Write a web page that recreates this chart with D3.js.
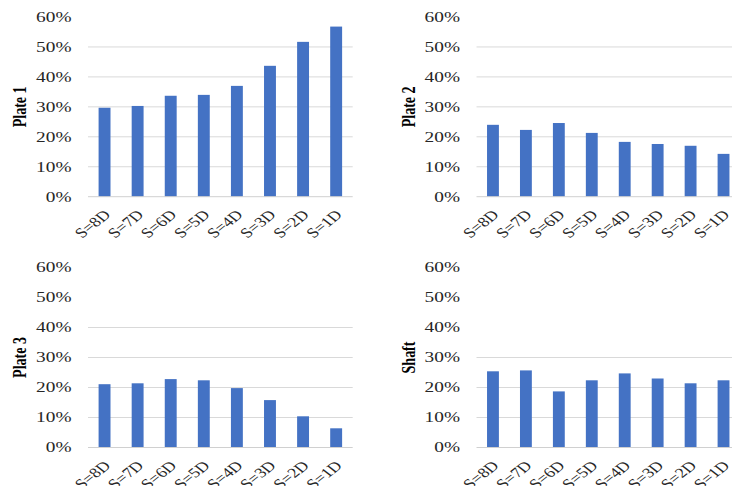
<!DOCTYPE html>
<html>
<head>
<meta charset="utf-8">
<script src="https://cdn.jsdelivr.net/npm/d3@7"></script>
<style>
  html, body { margin: 0; padding: 0; background: #fff; }
  svg { display: block; }
  text { font-family: "Liberation Serif", "Times New Roman", serif; }
</style>
</head>
<body>
<svg id="chart" width="732" height="486"></svg>
<script>
// Spacing categories (S = n·D)
const categories = ["S=8D", "S=7D", "S=6D", "S=5D", "S=4D", "S=3D", "S=2D", "S=1D"];

// Share per component, one array per panel
const plate1 = [0.297, 0.303, 0.337, 0.340, 0.370, 0.437, 0.517, 0.568];
const plate2 = [0.240, 0.223, 0.246, 0.213, 0.183, 0.176, 0.170, 0.143];
const plate3 = [0.211, 0.214, 0.228, 0.224, 0.198, 0.158, 0.104, 0.064];
const shaft  = [0.254, 0.257, 0.187, 0.224, 0.247, 0.230, 0.214, 0.224];

const panelTitles = ["Plate 1", "Plate 2", "Plate 3", "Shaft"];
const yTicks = [0, 0.1, 0.2, 0.3, 0.4, 0.5, 0.6];
// highest gridline drawn in each panel
const gridTops = [0.5, 0.5, 0.4, 0.3];

const series = [plate1, plate2, plate3, shaft];

// panel frames: plot area left/right, top (60%) and baseline (0%)
const frames = [
  { x0: 88,    x1: 352.7, top: 17,    base: 196.7 },
  { x0: 476.5, x1: 740,   top: 17,    base: 196.7 },
  { x0: 88,    x1: 352.7, top: 267.5, base: 447.5 },
  { x0: 476.5, x1: 740,   top: 267.5, base: 447.5 }
];

const SX = 1.38;   // horizontal stretch of the lettering
const SXC = 1.28;  // stretch of the slanted category labels
const svg = d3.select("#chart");

series.forEach((vals, i) => {
  const f = frames[i];
  const g = svg.append("g");

  const x = d3.scaleBand()
    .domain(categories)
    .range([f.x0, f.x1])
    .paddingInner(0.64)
    .paddingOuter(0.32);

  const y = d3.scaleLinear().domain([0, 0.6]).range([f.base, f.top]);

  // gridlines
  g.selectAll("line.grid")
    .data(yTicks.filter(t => t > 0 && t <= gridTops[i] + 1e-9))
    .join("line")
    .attr("class", "grid")
    .attr("x1", f.x0).attr("x2", f.x1)
    .attr("y1", d => y(d)).attr("y2", d => y(d))
    .attr("stroke", "#d9d9d9").attr("stroke-width", 1);

  // bars
  g.selectAll("rect.bar")
    .data(vals.map((v, k) => ({ c: categories[k], v })))
    .join("rect")
    .attr("class", "bar")
    .attr("x", d => x(d.c))
    .attr("width", x.bandwidth())
    .attr("y", d => y(d.v))
    .attr("height", d => y(0) - y(d.v))
    .attr("fill", "#4472C4");

  // baseline
  g.append("line")
    .attr("x1", f.x0).attr("x2", f.x1)
    .attr("y1", y(0)).attr("y2", y(0))
    .attr("stroke", "#d0d0d0").attr("stroke-width", 1);

  // y tick labels
  g.selectAll("text.ytick")
    .data(yTicks)
    .join("text")
    .attr("class", "ytick")
    .attr("transform", d => `translate(${f.x0 - 16.5},${y(d)}) scale(${SX},1)`)
    .attr("dy", "0.35em")
    .attr("text-anchor", "end")
    .attr("font-size", 14)
    .attr("fill", "#262626")
    .text(d3.format(".0%"));

  // x tick labels, slanted
  g.selectAll("text.xtick")
    .data(categories)
    .join("text")
    .attr("class", "xtick")
    .attr("transform", d => `translate(${x(d) + x.bandwidth() / 2 + 7},${y(0) + 19}) scale(${SXC},1) rotate(-45)`)
    .attr("text-anchor", "end")
    .attr("font-size", 14)
    .attr("fill", "#262626")
    .text(d => d);

  // panel title on the vertical axis
  g.append("text")
    .attr("transform", `translate(${f.x0 - 62},${(f.top + f.base) / 2}) scale(${SX},1) rotate(-90)`)
    .attr("text-anchor", "middle")
    .attr("font-size", 14)
    .attr("font-weight", "bold")
    .attr("fill", "#000")
    .text(panelTitles[i]);
});
</script>
</body>
</html>
